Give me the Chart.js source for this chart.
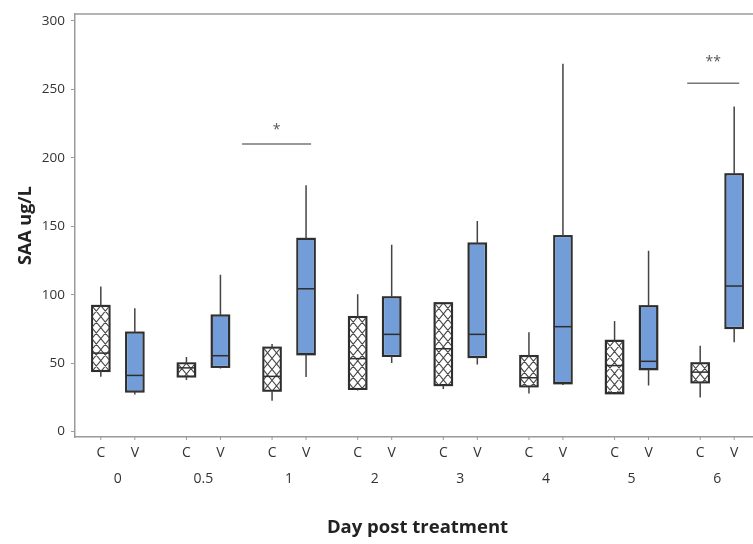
<!DOCTYPE html>
<html>
<head>
<meta charset="utf-8">
<script src="https://cdn.jsdelivr.net/npm/chart.js@4.4.1/dist/chart.umd.min.js"></script>
<style>
  html, body { margin: 0; padding: 0; background: #fff; overflow: hidden; }
  #wrap { width: 762px; height: 544px; }
</style>
</head>
<body>
<div id="wrap"><canvas id="c" width="762" height="544"></canvas></div>
<script>
// ---- data ----
const groups = ['0', '0.5', '1', '2', '3', '4', '5', '6'];
const seriesNames = ['C', 'V'];
const cMin = [40, 37.6, 22.4, 30, 31, 27.7, 27.7, 24.8];
const cQ1  = [44, 40, 29.6, 30.9, 33.7, 32.8, 27.7, 35.7];
const cMed = [57.3, 46.5, 40.3, 53.3, 60.5, 39.3, 48.2, 43.4];
const cQ3  = [92, 50, 61.5, 83.9, 94, 55.4, 66.5, 50.1];
const cMax = [106, 54.5, 63.9, 100.3, 94, 72.5, 80.7, 62.7];
const vMin = [27, 46, 39.8, 50, 49, 34, 33.7, 65.3];
const vQ1  = [29, 47, 56.2, 55, 54.2, 35, 45.3, 75.4];
const vMed = [41, 55.4, 104.3, 71, 71, 76.6, 51.3, 106.3];
const vQ3  = [72.5, 85, 141, 98.3, 137.6, 143, 91.8, 188.2];
const vMax = [90, 114.5, 180, 136.4, 153.8, 268.7, 132, 237.4];
const yTicks = [0, 50, 100, 150, 200, 250, 300];
// significance markers: group index, bar height, label, label height
const sigGroup = [2, 7];
const sigValue = [210, 254.5];
const sigLabel = ['*', '**'];
const sigLabelValue = [220, 270];

const stats = [
  { min: cMin, q1: cQ1, med: cMed, q3: cQ3, max: cMax },
  { min: vMin, q1: vQ1, med: vMed, q3: vQ3, max: vMax }
];

const FONT = "'Open Sans', 'DejaVu Sans', sans-serif";
Chart.defaults.font.family = FONT;
Chart.defaults.color = '#333';

const boxPlugin = {
  id: 'boxExtras',
  afterDatasetsDraw(chart) {
    const ctx = chart.ctx;
    const y = chart.scales.y;
    const area = chart.chartArea;
    // top frame line
    ctx.save();
    ctx.strokeStyle = '#9a9a9a';
    ctx.lineWidth = 1.5;
    ctx.beginPath();
    ctx.moveTo(area.left, area.top);
    ctx.lineTo(area.right + 2, area.top);
    ctx.stroke();
    ctx.restore();

    stats.forEach((s, di) => {
      const meta = chart.getDatasetMeta(di);
      meta.data.forEach((bar, i) => {
        const x = bar.x, w = bar.width;
        const l = x - w / 2, r = x + w / 2;
        const yq1 = y.getPixelForValue(s.q1[i]);
        const yq3 = y.getPixelForValue(s.q3[i]);
        ctx.save();
        if (di === 0) {
          // cross hatch inside the box
          ctx.beginPath();
          ctx.rect(l + 0.75, yq3 + 0.75, w - 1.5, yq1 - yq3 - 1.5);
          ctx.clip();
          ctx.strokeStyle = '#4a4a4a';
          ctx.lineWidth = 1.1;
          const px = w / 2, py = 11;
          ctx.beginPath();
          for (let k = -20; k < 40; k++) {
            const y0 = yq3 + k * py;
            ctx.moveTo(l, y0);
            ctx.lineTo(l + px * 8, y0 + py * 8);
            ctx.moveTo(r, y0);
            ctx.lineTo(r - px * 8, y0 + py * 8);
          }
          ctx.stroke();
        }
        ctx.restore();
        ctx.save();
        // box border
        ctx.strokeStyle = '#2e2e2e';
        ctx.lineWidth = 1.5;
        ctx.strokeRect(l, yq3, w, yq1 - yq3);
        // median
        const ym = y.getPixelForValue(s.med[i]);
        ctx.beginPath();
        ctx.moveTo(l, ym);
        ctx.lineTo(r, ym);
        ctx.stroke();
        // whiskers
        ctx.strokeStyle = '#444';
        ctx.lineWidth = 1.5;
        ctx.beginPath();
        ctx.moveTo(x, yq3);
        ctx.lineTo(x, y.getPixelForValue(s.max[i]));
        ctx.moveTo(x, yq1);
        ctx.lineTo(x, y.getPixelForValue(s.min[i]));
        ctx.stroke();
        // series tick + label under the axis
        ctx.strokeStyle = '#9a9a9a';
        ctx.lineWidth = 1;
        ctx.beginPath();
        ctx.moveTo(x, area.bottom);
        ctx.lineTo(x, area.bottom + 3);
        ctx.stroke();
        ctx.fillStyle = '#333';
        ctx.font = '14px ' + FONT;
        ctx.textAlign = 'center';
        ctx.textBaseline = 'middle';
        ctx.fillText(seriesNames[di], x, area.bottom + 16);
        ctx.restore();
      });
    });

    // significance bars
    const mc = chart.getDatasetMeta(0), mv = chart.getDatasetMeta(1);
    const leftExt = [30, 13];
    ctx.save();
    ctx.strokeStyle = '#777';
    ctx.lineWidth = 1.5;
    ctx.fillStyle = '#555';
    ctx.font = '14px ' + FONT;
    ctx.textAlign = 'center';
    ctx.textBaseline = 'middle';
    sigGroup.forEach((gi, k) => {
      const xc = mc.data[gi].x, xv = mv.data[gi].x;
      const yy = y.getPixelForValue(sigValue[k]);
      ctx.beginPath();
      ctx.moveTo(xc - leftExt[k], yy);
      ctx.lineTo(xv + 5, yy);
      ctx.stroke();
      ctx.fillText(sigLabel[k], (xc - leftExt[k] + xv + 5) / 2, y.getPixelForValue(sigLabelValue[k]));
    });
    ctx.restore();
  }
};

new Chart(document.getElementById('c'), {
  type: 'bar',
  data: {
    labels: groups,
    datasets: [
      {
        label: 'C',
        data: groups.map((g, i) => [cQ1[i], cQ3[i]]),
        backgroundColor: '#ffffff',
        borderColor: '#2e2e2e',
        borderWidth: 1.5,
        borderSkipped: false
      },
      {
        label: 'V',
        data: groups.map((g, i) => [vQ1[i], vQ3[i]]),
        backgroundColor: '#729dd8',
        borderColor: '#2e2e2e',
        borderWidth: 1.5,
        borderSkipped: false
      }
    ]
  },
  options: {
    responsive: false,
    animation: false,
    categoryPercentage: 0.794,
    barPercentage: 0.53,
    layout: { padding: { top: 9, right: 2, left: 0, bottom: 0 } },
    plugins: { legend: { display: false }, tooltip: { enabled: false } },
    scales: {
      x: {
        grid: { display: false },
        border: { display: true, color: '#9a9a9a', width: 1.5 },
        ticks: { font: { size: 14 }, color: '#333', padding: 26 },
        title: {
          display: true,
          text: 'Day post treatment',
          font: { size: 18.5, weight: 'bold' },
          color: '#222',
          padding: { top: 0, bottom: 5 }
        },
        afterFit(scale) { scale.height = 107; }
      },
      y: {
        min: -4,
        max: 305,
        afterBuildTicks(scale) { scale.ticks = yTicks.map(v => ({ value: v })); },
        grid: { drawOnChartArea: false, drawTicks: true, tickLength: 4, color: '#9a9a9a' },
        border: { display: true, color: '#9a9a9a', width: 1.5 },
        ticks: { font: { size: 13.5 }, color: '#333', padding: 6 },
        title: {
          display: true,
          text: 'SAA ug/L',
          font: { size: 18, weight: 'bold' },
          color: '#222',
          padding: { top: 15, bottom: 0 }
        },
        afterFit(scale) { scale.width = 75; }
      }
    }
  },
  plugins: [boxPlugin]
});
</script>
</body>
</html>
